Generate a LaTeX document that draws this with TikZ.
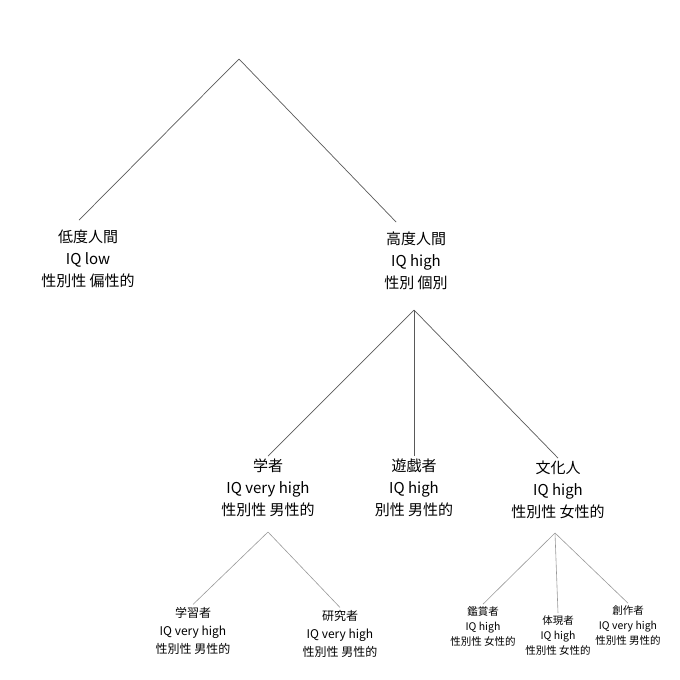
\documentclass[tikz,border=0pt]{standalone}
\usepackage{fontspec}
\setmainfont{Noto Sans CJK JP}
\usepackage{amsmath}

\tikzset{
	big/.style={align=center, inner sep=1pt, outer sep=2pt, font=\fontsize{15}{22}\selectfont},
	small/.style={align=center, inner sep=1pt, outer sep=2pt, font=\fontsize{12}{18}\selectfont},
	tiny/.style={align=center, inner sep=1pt, outer sep=2pt, font=\fontsize{10.5}{15}\selectfont},
	edge/.style={draw=black!65, line width=0.7pt},
	thinedge/.style={draw=black!40, line width=0.6pt}
}

\begin{document}
\begin{tikzpicture}[x=1pt,y=-1pt]
	
	\useasboundingbox (0,0) rectangle (680,680);
	
	% branching points
	\coordinate (root) at (239,59);
	\coordinate (split) at (414,310);
	\coordinate (ssplit) at (268,532);
	\coordinate (csplit) at (555,533);
	
	% first level
	\node[big, outer sep=9pt] (low) at (88,259) {低度人間\\IQ low\\性別性 偏性的};
	\node[big, outer sep=9pt] (high) at (416,261) {高度人間\\IQ high\\性別 個別};
	
	% second level
	\node[big] (scholar) at (268,488) {学者\\IQ very high\\性別性 男性的};
	\node[big] (player) at (414,488) {遊戯者\\IQ high\\別性 男性的};
	\node[big] (culture) at (558,490) {文化人\\IQ high\\性別性 女性的};
	
	% third level
	\node[small] (learner) at (193,631) {学習者\\IQ very high\\性別性 男性的};
	\node[small] (researcher) at (340,634) {研究者\\IQ very high\\性別性 男性的};
	\node[tiny] (viewer) at (483,627) {鑑賞者\\IQ high\\性別性 女性的};
	\node[tiny] (embodier) at (558,636) {体現者\\IQ high\\性別性 女性的};
	\node[tiny] (creator) at (628,626) {創作者\\IQ very high\\性別性 男性的};
	
	\draw[edge] (root) -- (low.103);
	\draw[edge] (root) -- (high.117);
	
	\draw[edge] (split) -- (scholar.north);
	\draw[edge] (split) -- (player.north);
	\draw[edge] (split) -- (culture.north);
	
	\draw[thinedge] (ssplit) -- (learner.north);
	\draw[thinedge] (ssplit) -- (researcher.north);
	\draw[thinedge] (csplit) -- (viewer.north);
	\draw[thinedge] (csplit) -- (embodier.north);
	\draw[thinedge] (csplit) -- (creator.north);
	
\end{tikzpicture}
\end{document}
